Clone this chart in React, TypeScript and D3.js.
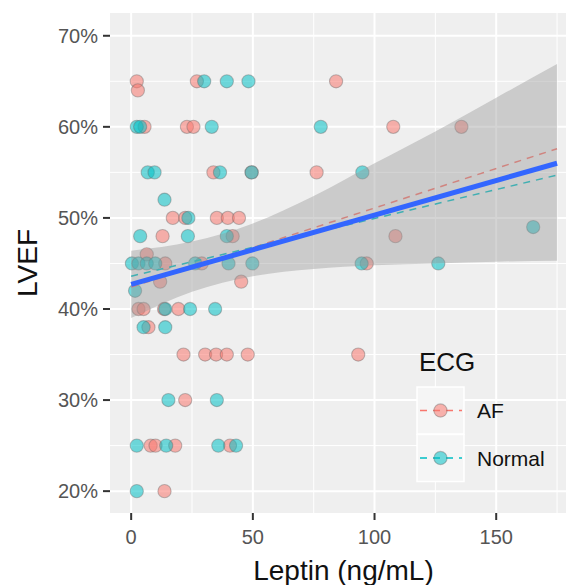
import React from "react";
import * as d3 from "d3";

// ---- data ----
const afLeptin = [2.3, 27.0, 84.2, 2.75, 5.5, 22.9, 25.6, 107.7, 135.7, 33.8, 49.5, 76.2, 17.1, 22.2, 35.2, 39.7, 44.3, 12.9, 41.7, 108.6, 6.4, 14.0, 29.0, 96.8, 11.9, 45.2, 3.0, 5.1, 19.4, 13.5, 7.1, 21.5, 30.4, 34.9, 39.3, 47.9, 93.3, 22.2, 8.0, 10.0, 18.1, 40.6, 13.7];
const afLvef = [65, 65, 65, 64, 60, 60, 60, 60, 60, 55, 55, 55, 50, 50, 50, 50, 50, 48, 48, 48, 46, 45, 45, 45, 43, 43, 40, 40, 40, 40, 38, 35, 35, 35, 35, 35, 35, 30, 25, 25, 25, 25, 20];
const normalLeptin = [30.0, 39.3, 48.2, 2.3, 3.7, 33.1, 77.9, 6.8, 9.6, 36.5, 49.5, 95.0, 13.7, 23.5, 3.7, 23.3, 39.3, 0.3, 3.0, 6.4, 9.9, 26.3, 40.0, 49.8, 94.7, 126.2, 165.2, 1.6, 14.0, 24.2, 34.5, 5.1, 14.0, 15.3, 35.2, 2.3, 14.4, 35.8, 43.1, 2.3];
const normalLvef = [65, 65, 65, 60, 60, 60, 60, 55, 55, 55, 55, 55, 52, 50, 48, 48, 48, 45, 45, 45, 45, 45, 45, 45, 45, 45, 49, 42, 40, 40, 40, 38, 38, 30, 30, 25, 25, 25, 25, 20];

// overall fit and its confidence band
const fitX = [0, 25, 50, 75, 100, 125, 150, 175];
const fitLower = [39.0, 41.9, 43.6, 44.4, 44.8, 45.0, 45.2, 45.3];
const fitUpper = [46.4, 47.4, 49.4, 52.4, 56.0, 59.5, 63.2, 66.9];
const fitLineX = [0, 175];
const fitLineY = [42.7, 56.0];
// per-group fits (dashed)
const afFitY = [42.4, 57.6];
const normalFitY = [43.6, 54.7];

const xTicks = [0, 50, 100, 150];
const xMinor = [25, 75, 125, 175];
const yTicks = [20, 30, 40, 50, 60, 70];
const yMinor = [25, 35, 45, 55, 65];
const groups = ["AF", "Normal"];
const groupColors = ["#F8766D", "#00BFC4"];

export default function App() {
  const W = 566, H = 585;
  const pL = 110, pR = 577, pT = 13, pB = 513;
  const x = d3.scaleLinear().domain([-8.7, 183.2]).range([pL, pR]);
  const y = d3.scaleLinear().domain([17.6, 72.5]).range([pB, pT]);
  const color = d3.scaleOrdinal<string, string>().domain(groups).range(groupColors);

  const area = d3
    .area<number>()
    .x((_, i) => x(fitX[i]))
    .y0((_, i) => y(fitLower[i]))
    .y1((_, i) => y(fitUpper[i]))
    .curve(d3.curveMonotoneX);
  const line = d3
    .line<number>()
    .x((_, i) => x(fitLineX[i]))
    .y((d) => y(d));

  const pts = [
    ...afLeptin.map((v, i) => ({ g: "AF", x: v, y: afLvef[i] })),
    ...normalLeptin.map((v, i) => ({ g: "Normal", x: v, y: normalLvef[i] })),
  ];

  const font = "'Liberation Sans', Arial, Helvetica, sans-serif";

  return (
    <svg width={W} height={H} style={{ position: "absolute", left: 0, top: 0 }} fontFamily={font}>
      <rect x={0} y={0} width={W} height={H} fill="#ffffff" />
      <defs>
        <clipPath id="panel">
          <rect x={pL} y={pT} width={pR - pL} height={pB - pT} />
        </clipPath>
      </defs>
      <rect x={pL} y={pT} width={pR - pL} height={pB - pT} fill="#efefef" />
      <g clipPath="url(#panel)">
        {xMinor.map((t) => (
          <line key={"xm" + t} x1={x(t)} x2={x(t)} y1={pT} y2={pB} stroke="#fff" strokeWidth={1} />
        ))}
        {yMinor.map((t) => (
          <line key={"ym" + t} x1={pL} x2={pR} y1={y(t)} y2={y(t)} stroke="#fff" strokeWidth={1} />
        ))}
        {xTicks.map((t) => (
          <line key={"xg" + t} x1={x(t)} x2={x(t)} y1={pT} y2={pB} stroke="#fff" strokeWidth={2} />
        ))}
        {yTicks.map((t) => (
          <line key={"yg" + t} x1={pL} x2={pR} y1={y(t)} y2={y(t)} stroke="#fff" strokeWidth={2} />
        ))}
        {pts.map((p, i) => (
          <circle
            key={i}
            cx={x(p.x)}
            cy={y(p.y)}
            r={6.6}
            fill={color(p.g)}
            fillOpacity={0.55}
            stroke="#666"
            strokeOpacity={0.4}
            strokeWidth={1.1}
          />
        ))}
        <path d={line(afFitY) || ""} fill="none" stroke={color("AF")} strokeWidth={1.5} strokeDasharray="7,6" />
        <path d={line(normalFitY) || ""} fill="none" stroke={color("Normal")} strokeWidth={1.5} strokeDasharray="7,6" />
        <path d={area(fitX) || ""} fill="#999999" fillOpacity={0.42} />
        <path d={line(fitLineY) || ""} fill="none" stroke="#3366FF" strokeWidth={5} />
      </g>
      {/* axes */}
      {yTicks.map((t) => (
        <g key={"yt" + t}>
          <line x1={pL - 7} x2={pL} y1={y(t)} y2={y(t)} stroke="#333" strokeWidth={2} />
          <text x={pL - 12} y={y(t)} dy="0.35em" textAnchor="end" fontSize={20} fill="#555">
            {d3.format(".0%")(t / 100)}
          </text>
        </g>
      ))}
      {xTicks.map((t) => (
        <g key={"xt" + t}>
          <line x1={x(t)} x2={x(t)} y1={pB} y2={pB + 7} stroke="#333" strokeWidth={2} />
          <text x={x(t)} y={544} textAnchor="middle" fontSize={20} fill="#555">
            {t}
          </text>
        </g>
      ))}
      <text x={(pL + pR) / 2} y={580} textAnchor="middle" fontSize={28} fill="#111">
        Leptin (ng/mL)
      </text>
      <text transform={`translate(37,${(pT + pB) / 2}) rotate(-90)`} textAnchor="middle" fontSize={28} fill="#111">
        LVEF
      </text>
      {/* legend */}
      <text x={419} y={371} fontSize={26} fill="#111">ECG</text>
      {groups.map((g, i) => {
        const ky = 387 + i * 47.5;
        const cy = ky + 23.5;
        return (
          <g key={g}>
            <rect x={417} y={ky} width={47} height={47} fill="#f5f5f5" stroke="#ffffff" strokeWidth={1.5} />
            <line x1={419} x2={462} y1={cy} y2={cy} stroke={color(g)} strokeWidth={1.5} strokeDasharray="7,6" strokeDashoffset={-1} />
            <circle cx={440.5} cy={cy} r={6.6} fill={color(g)} fillOpacity={0.55} stroke="#666" strokeOpacity={0.4} strokeWidth={1.1} />
            <text x={477} y={cy + 7.5} fontSize={21} fill="#111">{g}</text>
          </g>
        );
      })}
    </svg>
  );
}
